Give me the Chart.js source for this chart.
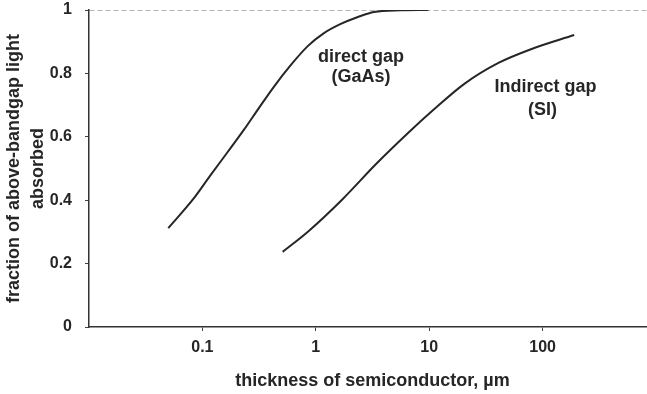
<!DOCTYPE html>
<html>
<head>
<meta charset="utf-8">
<script src="https://cdn.jsdelivr.net/npm/chart.js@4.4.1/dist/chart.umd.min.js"></script>
<style>
  html, body { margin: 0; padding: 0; background: #fff; overflow: hidden; }
  #wrap { width: 656px; height: 394px; position: relative; }
</style>
</head>
<body>
<div id="wrap"><canvas id="absChart"></canvas></div>
<script>
// thickness (um) vs fraction absorbed
const gaasThickness = [0.05, 0.0832, 0.118, 0.167, 0.231, 0.307, 0.425, 0.601, 0.849, 1.18, 1.66, 2.35, 3.26, 5.65, 9.8];
const gaasFraction  = [0.312, 0.404, 0.479, 0.552, 0.621, 0.685, 0.757, 0.826, 0.886, 0.927, 0.956, 0.978, 0.994, 0.999, 1.0];
const siThickness   = [0.51, 0.867, 1.73, 3.4, 6.65, 10.6, 20.4, 40.8, 80, 190];
const siFraction    = [0.237, 0.303, 0.404, 0.514, 0.615, 0.681, 0.767, 0.833, 0.877, 0.921];

const xTickValues = [0.1, 1, 10, 100];
const xTickLabels = ["0.1", "1", "10", "100"];
const yTickValues = [0, 0.2, 0.4, 0.6, 0.8, 1];
const yTickLabels = ["0", "0.2", "0.4", "0.6", "0.8", "1"];

const curveLabels = [
    { text: "direct gap", x: 2.5, y: 0.852 },
    { text: "(GaAs)", x: 2.5, y: 0.79 },
    { text: "Indirect gap", x: 106, y: 0.757 },
    { text: "(SI)", x: 100, y: 0.685 }
];

const fontFamily = '"Liberation Sans", Arial, sans-serif';
const ink = "#262626";

function toPoints(xs, ys) {
    return xs.map((x, i) => ({ x: x, y: ys[i] }));
}

// text next to the curves, placed in data coordinates
const curveText = {
    id: "curveText",
    afterDatasetsDraw(chart) {
        const ctx = chart.ctx;
        const xs = chart.scales.x, ys = chart.scales.y;
        ctx.save();
        ctx.fillStyle = ink;
        ctx.font = "bold 18px " + fontFamily;
        ctx.textAlign = "center";
        ctx.textBaseline = "middle";
        curveLabels.forEach(l => {
            ctx.fillText(l.text, xs.getPixelForValue(l.x), ys.getPixelForValue(l.y));
        });
        ctx.restore();
    }
};

new Chart(document.getElementById("absChart"), {
    type: "line",
    data: {
        datasets: [{
            label: "direct gap (GaAs)",
            data: toPoints(gaasThickness, gaasFraction),
            borderColor: ink,
            borderWidth: 2,
            pointRadius: 0,
            cubicInterpolationMode: "monotone"
        }, {
            label: "indirect gap (Si)",
            data: toPoints(siThickness, siFraction),
            borderColor: ink,
            borderWidth: 2,
            pointRadius: 0,
            cubicInterpolationMode: "monotone"
        }]
    },
    options: {
        responsive: true,
        maintainAspectRatio: false,
        animation: false,
        layout: { padding: 0 },
        plugins: { legend: { display: false }, tooltip: { enabled: false } },
        scales: {
            x: {
                type: "logarithmic",
                min: 0.01,
                max: 1000,
                afterBuildTicks: s => { s.ticks = xTickValues.map(v => ({ value: v })); },
                afterFit: s => { s.height = 67; },
                ticks: {
                    autoSkip: false,
                    maxRotation: 0,
                    padding: 7,
                    color: ink,
                    font: { family: fontFamily, size: 16, weight: "bold" },
                    callback: (v) => xTickLabels[xTickValues.indexOf(v)]
                },
                grid: { drawOnChartArea: false, tickLength: 4, tickColor: "#444" },
                border: { color: "#333", width: 1.5 },
                title: {
                    display: true,
                    text: "thickness of semiconductor, \u00b5m",
                    color: ink,
                    font: { family: fontFamily, size: 18, weight: "bold" },
                    padding: { top: 0, bottom: 2 }
                }
            },
            y: {
                min: 0,
                max: 1,
                afterBuildTicks: s => { s.ticks = yTickValues.map(v => ({ value: v })); },
                afterFit: s => { s.width = 89; s.paddingTop = 10; },
                ticks: {
                    padding: 13,
                    color: ink,
                    font: { family: fontFamily, size: 16, weight: "bold" },
                    callback: (v) => yTickLabels[yTickValues.indexOf(v)]
                },
                grid: {
                    tickLength: 4,
                    tickColor: "#444",
                    color: ctx => ctx.tick && ctx.tick.value === 1 ? "#b5b5b5" : "rgba(0,0,0,0)"
                },
                border: { color: "#333", width: 1.5, dash: [5, 3] },
                title: {
                    display: true,
                    text: ["fraction of above-bandgap light", "absorbed"],
                    color: ink,
                    font: { family: fontFamily, size: 18, weight: "bold", lineHeight: 1.33 },
                    padding: { top: 2, bottom: 0 }
                }
            }
        }
    },
    plugins: [curveText]
});
</script>
</body>
</html>
